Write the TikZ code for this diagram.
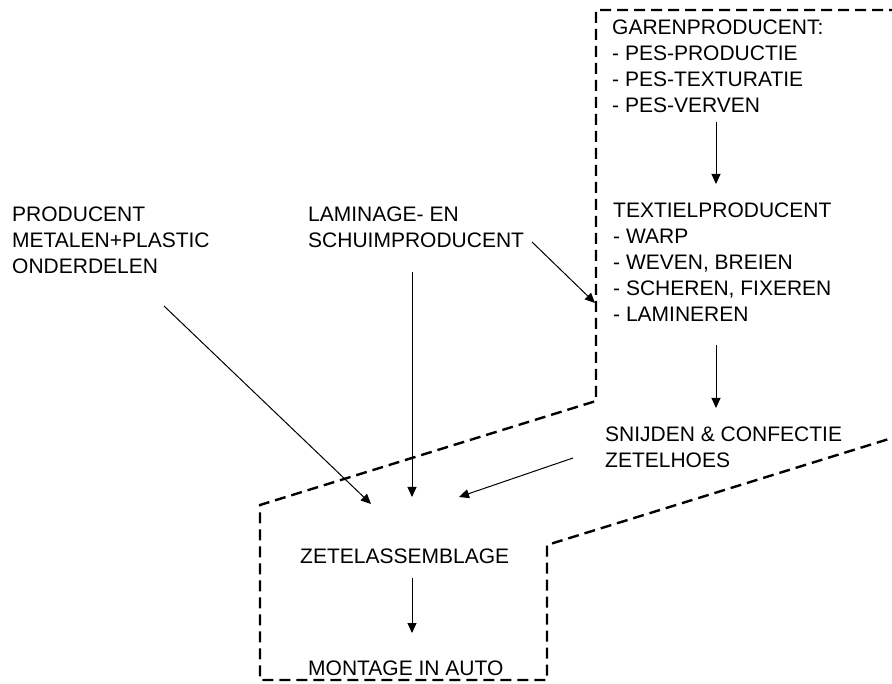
\documentclass[tikz,border=0pt]{standalone}
\usepackage{fontspec}
\setmainfont{Liberation Sans}
\usetikzlibrary{arrows.meta}
\tikzset{
  lbl/.style={anchor=base west, inner sep=0pt, align=left, font=\fontsize{21}{25.8}\selectfont},
  arr/.style={-{Triangle[length=10pt,width=9pt]}, line width=1pt},
  frame/.style={line width=2.4pt, dash pattern=on 11pt off 6pt}
}
\begin{document}
\begin{tikzpicture}[x=1pt,y=-1pt]
\useasboundingbox (0,0) rectangle (892,684);
\begin{scope}
\clip (0,0) rectangle (892,684);
\draw[frame] (900,10) -- (596,10) -- (596,401) -- (260,505) -- (260,680) -- (547,680) -- (547,545) -- (905,434);
\end{scope}
% anchor = baseline of the last line
\node[lbl] (garen) at (612,112.4) {GARENPRODUCENT:\\- PES-PRODUCTIE\\- PES-TEXTURATIE\\- PES-VERVEN};
\node[lbl] (textiel) at (613,321.2) {TEXTIELPRODUCENT\\- WARP\\- WEVEN, BREIEN\\- SCHEREN, FIXEREN\\- LAMINEREN};
\node[lbl] (snij) at (605,467.8) {SNIJDEN \& CONFECTIE\\ZETELHOES};
\node[lbl] (prod) at (12,273.6) {PRODUCENT\\METALEN+PLASTIC\\ONDERDELEN};
\node[lbl] (lam) at (308,247.8) {LAMINAGE- EN\\SCHUIMPRODUCENT};
\node[lbl] (zetel) at (300,563) {ZETELASSEMBLAGE};
\node[lbl] (mont) at (308,675) {MONTAGE IN AUTO};
\coordinate (g1) at (716,122); \coordinate (g2) at (716,184);
\coordinate (t1) at (716,345); \coordinate (t2) at (716,408);
\coordinate (l1) at (532,242); \coordinate (l2) at (595,303);
\coordinate (v1) at (412,272); \coordinate (v2) at (412,497);
\coordinate (p1) at (164,306); \coordinate (p2) at (371,504);
\coordinate (s1) at (573,458); \coordinate (s2) at (459,497);
\coordinate (z1) at (412,578); \coordinate (z2) at (412,633);
\draw[arr] (g1) -- (g2);
\draw[arr] (t1) -- (t2);
\draw[arr] (l1) -- (l2);
\draw[arr] (v1) -- (v2);
\draw[arr] (p1) -- (p2);
\draw[arr] (s1) -- (s2);
\draw[arr] (z1) -- (z2);
\end{tikzpicture}
\end{document}
